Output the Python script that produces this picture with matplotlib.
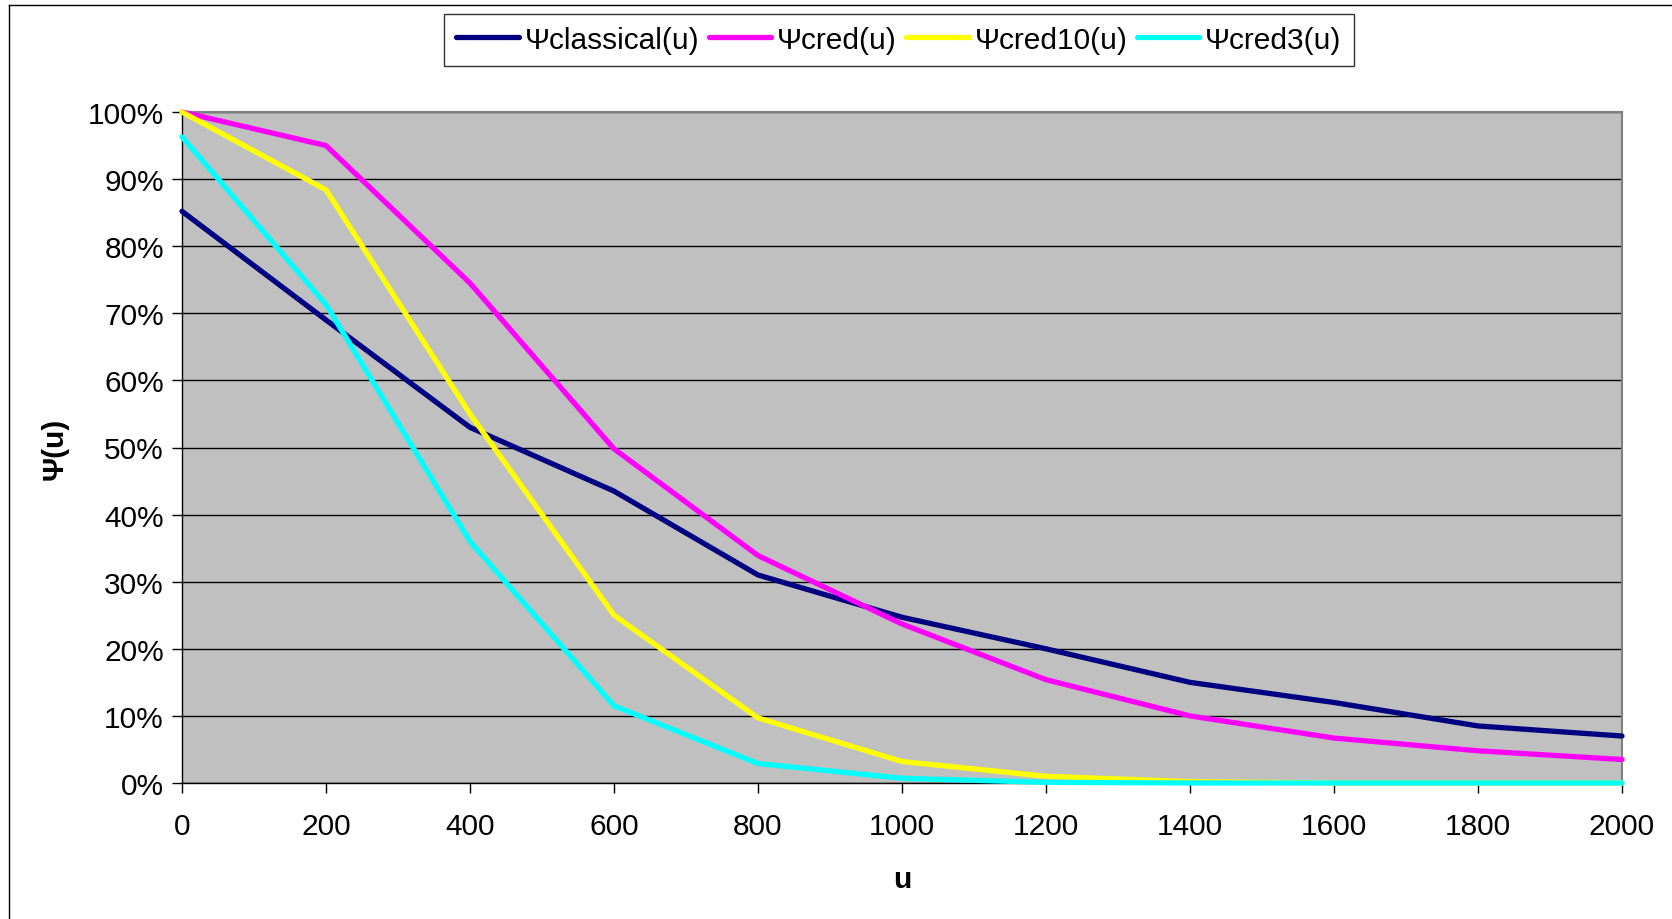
import matplotlib
matplotlib.use("Agg")
import matplotlib.pyplot as plt
from matplotlib.ticker import FuncFormatter, MultipleLocator
from matplotlib.lines import Line2D

plt.rcParams['font.family'] = ['Liberation Sans', 'DejaVu Sans']

# data (fractions)
u = [0, 200, 400, 600, 800, 1000, 1200, 1400, 1600, 1800, 2000]
psi_classical = [0.852, 0.690, 0.530, 0.435, 0.310, 0.247, 0.200, 0.150, 0.120, 0.085, 0.070]
psi_cred = [1.000, 0.950, 0.745, 0.498, 0.339, 0.237, 0.154, 0.100, 0.067, 0.048, 0.035]
psi_cred10 = [1.000, 0.884, 0.550, 0.250, 0.097, 0.032, 0.010, 0.002, 0.000, 0.000, 0.000]
psi_cred3 = [0.963, 0.713, 0.360, 0.115, 0.029, 0.007, 0.001, 0.000, 0.000, 0.000, 0.000]

series = [
    ("Ψclassical(u)", psi_classical, "#000080"),
    ("Ψcred(u)", psi_cred, "#FF00FF"),
    ("Ψcred10(u)", psi_cred10, "#FFFF00"),
    ("Ψcred3(u)", psi_cred3, "#00FFFF"),
]

fs = 21.5

fig = plt.figure(figsize=(16.72, 9.2), dpi=100, facecolor="white")
ax = fig.add_axes([182/1672, 1 - 784/920, (1622 - 182)/1672, (784 - 113)/920])
ax.set_facecolor("#C0C0C0")

# outer chart-area frame (left and top edges visible)
fig.add_artist(Line2D([9/1672, 9/1672], [0, 1 - 6/920], transform=fig.transFigure,
                      color="black", lw=1))
fig.add_artist(Line2D([9/1672, 1], [1 - 6/920, 1 - 6/920], transform=fig.transFigure,
                      color="black", lw=1))

for name, vals, col in series:
    ax.plot(u, vals, color=col, lw=3.8, label=name, solid_capstyle="round",
            solid_joinstyle="round", zorder=3, clip_on=False)

ax.set_xlim(0, 2000)
ax.set_ylim(0, 1.0)
ax.xaxis.set_major_locator(MultipleLocator(200))
ax.yaxis.set_major_locator(MultipleLocator(0.1))
ax.yaxis.set_major_formatter(FuncFormatter(lambda v, p: f"{v*100:.0f}%"))
ax.grid(axis="y", color="black", lw=1, zorder=1)
ax.set_axisbelow(True)

for s in ["top", "right"]:
    ax.spines[s].set_color("#808080")
    ax.spines[s].set_linewidth(1.5)
for s in ["left", "bottom"]:
    ax.spines[s].set_color("black")
    ax.spines[s].set_linewidth(1)

ax.tick_params(axis="both", direction="out", length=7, width=1, labelsize=fs, colors="black")
ax.tick_params(axis="x", pad=14)
ax.tick_params(axis="y", pad=6)

ax.set_xlabel("u", fontsize=fs, fontweight="bold", labelpad=18)
ax.set_ylabel("Ψ(u)", fontsize=fs, fontweight="bold", labelpad=14)

leg = fig.legend(loc="upper center", bbox_to_anchor=(899/1672, 1 - 15/920), ncol=4,
                 fontsize=fs, frameon=True, fancybox=False, edgecolor="black",
                 handlelength=2.1, handletextpad=0.2, columnspacing=0.3,
                 borderpad=0.4, borderaxespad=0)
leg.get_frame().set_linewidth(1)

fig.savefig("out.png", dpi=100, facecolor="white")
